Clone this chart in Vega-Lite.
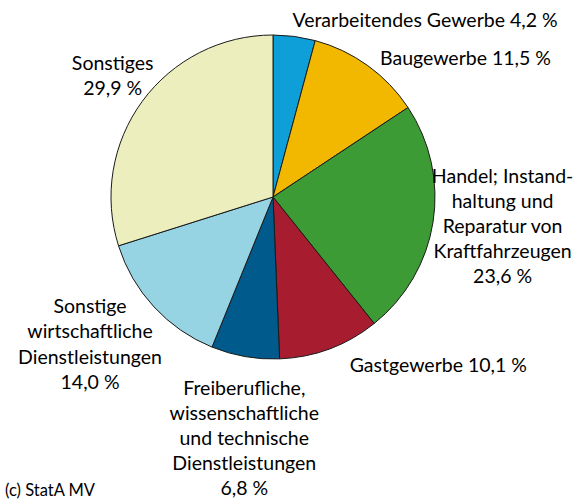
{
  "$schema": "https://vega.github.io/schema/vega-lite/v6.json",
  "width": 546,
  "height": 394,
  "padding": {"left": 0, "top": 0, "right": 36, "bottom": 105},
  "autosize": {"type": "none"},
  "background": "white",
  "config": {"view": {"stroke": null}, "font": "Lato"},
  "title": {"text": "(c) StatA MV", "orient": "bottom", "anchor": "start", "baseline": "middle", "fontSize": 16.5, "fontWeight": "normal", "font": "Lato", "color": "#000000", "offset": -7, "dx": 5},
  "data": {"values": [
    {"idx": 1, "sector": "Verarbeitendes Gewerbe", "value": 4.2, "label": "Verarbeitendes Gewerbe 4,2 %"},
    {"idx": 2, "sector": "Baugewerbe", "value": 11.5, "label": "Baugewerbe 11,5 %"},
    {"idx": 3, "sector": "Handel", "value": 23.6, "label": "Handel; Instand-\nhaltung und\nReparatur von\nKraftfahrzeugen\n23,6 %"},
    {"idx": 4, "sector": "Gastgewerbe", "value": 10.1, "label": "Gastgewerbe 10,1 %"},
    {"idx": 5, "sector": "Freiberufliche", "value": 6.8, "label": "Freiberufliche,\nwissenschaftliche\nund technische\nDienstleistungen\n6,8 %"},
    {"idx": 6, "sector": "Sonstige wirtschaftliche", "value": 14.0, "label": "Sonstige\nwirtschaftliche\nDienstleistungen\n14,0 %"},
    {"idx": 7, "sector": "Sonstiges", "value": 29.9, "label": "Sonstiges\n29,9 %"}
  ]},
  "encoding": {
    "theta": {"field": "value", "type": "quantitative", "stack": true},
    "order": {"field": "idx", "type": "quantitative"}
  },
  "layer": [
    {
      "mark": {"type": "arc", "outerRadius": 162, "stroke": "#1a1a1a", "strokeWidth": 1},
      "encoding": {
        "color": {"field": "sector", "type": "nominal", "legend": null,
          "scale": {"domain": ["Verarbeitendes Gewerbe", "Baugewerbe", "Handel", "Gastgewerbe", "Freiberufliche", "Sonstige wirtschaftliche", "Sonstiges"],
                    "range": ["#0f9fd8", "#f2b800", "#3c9b35", "#a81c2f", "#005a8c", "#96d4e3", "#ecefbd"]}}
      }
    },
    {
      "mark": {"type": "text", "radius": 178, "align": "left", "baseline": "middle", "dx": -4, "fontSize": 19.5, "lineBreak": "\n", "lineHeight": 25, "color": "#000000"},
      "encoding": {"text": {"condition": {"test": "datum.idx === 1", "field": "label"}, "value": ""}}
    },
    {
      "mark": {"type": "text", "radius": 171, "align": "left", "baseline": "middle", "dx": 7, "dy": 1, "fontSize": 19.5, "lineBreak": "\n", "lineHeight": 25, "color": "#000000"},
      "encoding": {"text": {"condition": {"test": "datum.idx === 2", "field": "label"}, "value": ""}}
    },
    {
      "mark": {"type": "text", "radius": 200, "align": "center", "baseline": "middle", "dx": 32, "dy": -51, "fontSize": 19.5, "lineBreak": "\n", "lineHeight": 25, "color": "#000000"},
      "encoding": {"text": {"condition": {"test": "datum.idx === 3", "field": "label"}, "value": ""}}
    },
    {
      "mark": {"type": "text", "radius": 179, "align": "left", "baseline": "middle", "dx": 14, "dy": 1, "fontSize": 19.5, "lineBreak": "\n", "lineHeight": 25, "color": "#000000"},
      "encoding": {"text": {"condition": {"test": "datum.idx === 4", "field": "label"}, "value": ""}}
    },
    {
      "mark": {"type": "text", "radius": 243, "align": "center", "baseline": "middle", "dx": 13, "dy": -47, "fontSize": 19.5, "lineBreak": "\n", "lineHeight": 24.8, "color": "#000000"},
      "encoding": {"text": {"condition": {"test": "datum.idx === 5", "field": "label"}, "value": ""}}
    },
    {
      "mark": {"type": "text", "radius": 200, "align": "center", "baseline": "middle", "dx": -36, "dy": -26, "fontSize": 19.5, "lineBreak": "\n", "lineHeight": 25.5, "color": "#000000"},
      "encoding": {"text": {"condition": {"test": "datum.idx === 6", "field": "label"}, "value": ""}}
    },
    {
      "mark": {"type": "text", "radius": 200, "align": "center", "baseline": "middle", "dx": 1, "dy": -15, "fontSize": 19.5, "lineBreak": "\n", "lineHeight": 25, "color": "#000000"},
      "encoding": {"text": {"condition": {"test": "datum.idx === 7", "field": "label"}, "value": ""}}
    }
  ]
}
